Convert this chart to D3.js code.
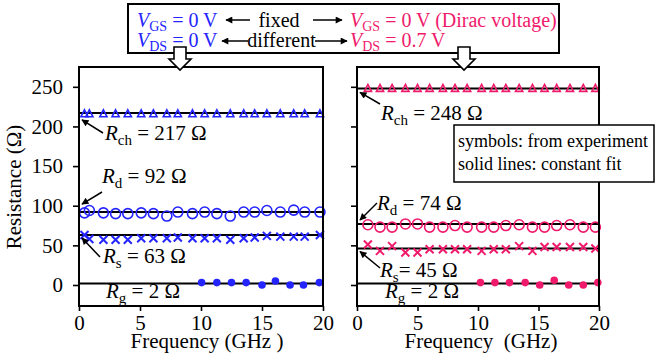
<!DOCTYPE html>
<html>
<head>
<meta charset="utf-8">
<script src="https://cdn.jsdelivr.net/npm/d3@7"></script>
</head>
<body style="margin:0">
<svg id="chart" width="657" height="364"></svg>
<script>
// ---- data ----
// left panel: VGS = 0 V, VDS = 0 V
let leftFreq = [0.45, 0.85, 2.0, 3.0, 4.0, 5.1, 6.1, 7.2, 8.1, 9.3, 10.3, 11.3, 12.4, 13.5, 14.4, 15.4, 16.5, 17.6, 18.5, 19.75];
let leftRch = [216, 216, 216, 216, 216, 216, 216, 216, 216, 216, 216, 216, 216, 216, 216, 216, 216, 216, 216, 216];
let leftRd = [91, 94, 91, 90, 90, 91, 90, 87, 92, 90, 92, 90, 87, 92, 92, 94, 92, 94.5, 92, 92];
let leftRs = [63, 58, 57, 57, 57, 59, 59, 59, 60, 59, 59, 59, 57, 59, 60, 62, 61, 61, 61, 63];
let leftGateFreq = [10.05, 11.3, 12.5, 13.7, 15.0, 16.1, 17.3, 18.4, 19.7];
let leftRg = [3, 3, 3, 3, 0, 5, 0, 0, 3];
let leftFit = [217, 92, 63, 2];

// right panel: VGS = 0 V (Dirac), VDS = 0.7 V
let rightFreq = [0.9, 1.9, 2.9, 4.0, 5.0, 6.0, 7.1, 8.1, 9.1, 10.3, 11.3, 12.3, 13.4, 14.5, 15.5, 16.5, 17.6, 18.7, 19.7];
let rightRch = [248, 248, 248, 248, 248, 248, 248, 248, 248, 248, 248, 248, 248, 248, 248, 248, 248, 248, 248];
let rightRd = [76, 73, 73, 77, 77, 73, 73, 75, 73, 73, 73, 75, 76, 73, 73, 75, 76, 73, 73];
let rightRs = [51, 43, 49, 41, 41, 45, 45, 45, 45, 43, 45, 45, 49, 43, 48, 48, 48, 48, 46];
let rightGateFreq = [10.2, 11.4, 12.6, 13.9, 15.1, 16.3, 17.5, 18.7, 19.9];
let rightRg = [3, 3, 3, 3, 0, 6, 0, 0, 3];
let rightFit = [248, 77, 46, 2];

let yTicks = [0, 50, 100, 150, 200, 250];
let xTicks = [0, 5, 10, 15, 20];

let blue = "#2424ff";
let pink = "#f01a6c";
let fontStack = "'Liberation Serif', 'Times New Roman', Tinos, FreeSerif, serif";

let svg = d3.select("#chart");

// every text gets the serif face at creation time
function addText(parent, size) {
    return parent.append("text")
        .attr("font-family", "Liberation Serif")
        .style("font-family", fontStack)
        .attr("font-size", size);
}

svg.append("defs").append("marker")
    .attr("id", "head")
    .attr("viewBox", "0 0 10 10")
    .attr("refX", 9).attr("refY", 5)
    .attr("markerWidth", 8).attr("markerHeight", 7)
    .attr("markerUnits", "userSpaceOnUse")
    .attr("orient", "auto")
    .append("path").attr("d", "M0,0 L10,5 L0,10 Z").attr("fill", "#000");

function panel(opts) {
    let x = d3.scaleLinear().domain([0, 20]).range([opts.left, opts.right]);
    let y = d3.scaleLinear().domain([-26.5, 275]).range([306, 67]);
    let g = svg.append("g");

    let ya = g.append("g")
        .attr("transform", "translate(" + opts.left + ",0)")
        .call(d3.axisLeft(y).tickValues(yTicks).tickSize(6).tickPadding(10)
            .tickFormat(opts.yLabels ? d3.format("d") : ""));
    ya.attr("font-family", "Liberation Serif").style("font-family", fontStack);
    ya.select(".domain").remove();
    ya.selectAll("line").attr("stroke-width", 1.6);
    ya.selectAll("text").attr("fill", "#000").attr("font-size", 21)
        .attr("font-family", "Liberation Serif").style("font-family", fontStack);

    let xa = g.append("g")
        .attr("transform", "translate(0,306)")
        .call(d3.axisBottom(x).tickValues(xTicks).tickSize(5).tickPadding(4));
    xa.attr("font-family", "Liberation Serif").style("font-family", fontStack);
    xa.select(".domain").remove();
    xa.selectAll("line").attr("stroke-width", 1.6);
    xa.selectAll("text").attr("fill", "#000").attr("font-size", 21)
        .attr("font-family", "Liberation Serif").style("font-family", fontStack);

    // constant fits
    g.selectAll(".fit").data(opts.fit).enter().append("line")
        .attr("x1", x(0)).attr("x2", x(20))
        .attr("y1", d => y(d)).attr("y2", d => y(d))
        .attr("stroke", "#000").attr("stroke-width", 2);

    // triangles (R_ch)
    g.selectAll(".tri").data(d3.zip(opts.freq, opts.rch)).enter().append("path")
        .attr("d", d => "M" + x(d[0]) + "," + (y(d[1]) - 4) + " l3.6,7 l-7.2,0 Z")
        .attr("fill", "none").attr("stroke", opts.color).attr("stroke-width", 1.6);

    // circles (R_d)
    g.selectAll(".circ").data(d3.zip(opts.freq, opts.rd)).enter().append("circle")
        .attr("cx", d => x(d[0])).attr("cy", d => y(d[1])).attr("r", 5)
        .attr("fill", "none").attr("stroke", opts.color).attr("stroke-width", 1.6);

    // crosses (R_s)
    g.selectAll(".cross").data(d3.zip(opts.freq, opts.rs)).enter().append("path")
        .attr("d", d => {
            let cx = x(d[0]), cy = y(d[1]);
            return "M" + (cx - 4) + "," + (cy - 4) + "L" + (cx + 4) + "," + (cy + 4) +
                "M" + (cx - 4) + "," + (cy + 4) + "L" + (cx + 4) + "," + (cy - 4);
        })
        .attr("stroke", opts.color).attr("stroke-width", 2);

    // dots (R_g)
    g.selectAll(".dot").data(d3.zip(opts.gateFreq, opts.rg)).enter().append("circle")
        .attr("cx", d => x(d[0])).attr("cy", d => y(d[1])).attr("r", 3.8)
        .attr("fill", opts.color);

    g.append("rect")
        .attr("x", opts.left).attr("y", 67)
        .attr("width", opts.right - opts.left).attr("height", 239)
        .attr("fill", "none").attr("stroke", "#000").attr("stroke-width", 2);

    // annotations
    opts.notes.forEach(n => {
        let t = addText(g, 21).attr("x", n.x).attr("y", n.y);
        t.append("tspan").attr("font-style", "italic").text("R");
        t.append("tspan").attr("font-size", 15).attr("dy", 5).text(n.sub);
        t.append("tspan").attr("dy", -5).text(n.rest);
        if (n.from) {
            g.append("line")
                .attr("x1", n.from[0]).attr("y1", n.from[1])
                .attr("x2", x(0) + 3).attr("y2", y(n.at) + n.off)
                .attr("stroke", "#000").attr("stroke-width", 1.5)
                .attr("marker-end", "url(#head)");
        }
    });

    addText(g, 21)
        .attr("x", opts.titleX).attr("y", 348)
        .attr("text-anchor", "middle")
        .style("white-space", "pre")
        .text(opts.xTitle);
}

panel({
    left: 79, right: 323, yLabels: true, color: blue,
    freq: leftFreq, rch: leftRch, rd: leftRd, rs: leftRs,
    gateFreq: leftGateFreq, rg: leftRg, fit: leftFit,
    titleX: 207, xTitle: "Frequency (GHz )",
    notes: [
        { x: 105, y: 140, sub: "ch", rest: " = 217 Ω", from: [103, 133], at: 217, off: 7 },
        { x: 102, y: 183, sub: "d", rest: " = 92 Ω", from: [102, 192], at: 92, off: -8 },
        { x: 103, y: 263, sub: "s", rest: " = 63 Ω", from: [100, 257], at: 63, off: 3 },
        { x: 106, y: 298, sub: "g", rest: " = 2 Ω" }
    ]
});

panel({
    left: 357, right: 599, yLabels: false, color: pink,
    freq: rightFreq, rch: rightRch, rd: rightRd, rs: rightRs,
    gateFreq: rightGateFreq, rg: rightRg, fit: rightFit,
    titleX: 481, xTitle: "Frequency  (GHz)",
    notes: [
        { x: 381, y: 120, sub: "ch", rest: " = 248 Ω", from: [380, 104], at: 248, off: 4 },
        { x: 377, y: 210, sub: "d", rest: " = 74 Ω", from: [377, 203], at: 77, off: -4 },
        { x: 380, y: 277, sub: "s", rest: "= 45 Ω", from: [380, 268], at: 46, off: 3 },
        { x: 385, y: 298, sub: "g", rest: " = 2 Ω" }
    ]
});

// y axis title
addText(svg, 21)
    .attr("transform", "translate(21,187) rotate(-90)")
    .attr("text-anchor", "middle")
    .text("Resistance (Ω)");

// legend box
svg.append("rect").attr("x", 454).attr("y", 125).attr("width", 200).attr("height", 57)
    .attr("fill", "#fff").attr("stroke", "#000").attr("stroke-width", 1.5);
addText(svg, 18).attr("x", 458).attr("y", 147).text("symbols: from experiment");
addText(svg, 18).attr("x", 458).attr("y", 170).text("solid lines: constant fit");

// header box
svg.append("rect").attr("x", 128).attr("y", 4).attr("width", 431).attr("height", 49)
    .attr("fill", "#fff").attr("stroke", "#000").attr("stroke-width", 2);

function voltage(xp, yp, sub, rest, color) {
    let t = addText(svg, 20).attr("x", xp).attr("y", yp).attr("fill", color);
    t.append("tspan").attr("font-style", "italic").text("V");
    t.append("tspan").attr("font-size", 14).attr("dy", 4).text(sub);
    t.append("tspan").attr("dy", -4).text(rest);
}
voltage(137, 27, "GS", " = 0 V", blue);
voltage(137, 47, "DS", " = 0 V", blue);
voltage(350, 27, "GS", " = 0 V (Dirac voltage)", pink);
voltage(350, 47, "DS", " = 0.7 V", pink);

addText(svg, 20).attr("x", 279).attr("y", 27).attr("text-anchor", "middle").text("fixed");
addText(svg, 20).attr("x", 281.5).attr("y", 47).attr("text-anchor", "middle").text("different");

[[250, 20, 226], [313, 20, 342], [248, 41, 222], [315, 41, 347]].forEach(a => {
    svg.append("line").attr("x1", a[0]).attr("y1", a[1]).attr("x2", a[2]).attr("y2", a[1])
        .attr("stroke", "#000").attr("stroke-width", 1.5).attr("marker-end", "url(#head)");
});

// hollow down arrows from header to panels
[180, 464].forEach(cx => {
    let pts = [[cx - 6, 47], [cx + 6, 47], [cx + 6, 59], [cx + 11, 59], [cx, 70], [cx - 11, 59], [cx - 6, 59]];
    svg.append("polygon").attr("points", pts.map(p => p.join(",")).join(" "))
        .attr("fill", "#fff").attr("stroke", "#000").attr("stroke-width", 1.6);
});
</script>
</body>
</html>
